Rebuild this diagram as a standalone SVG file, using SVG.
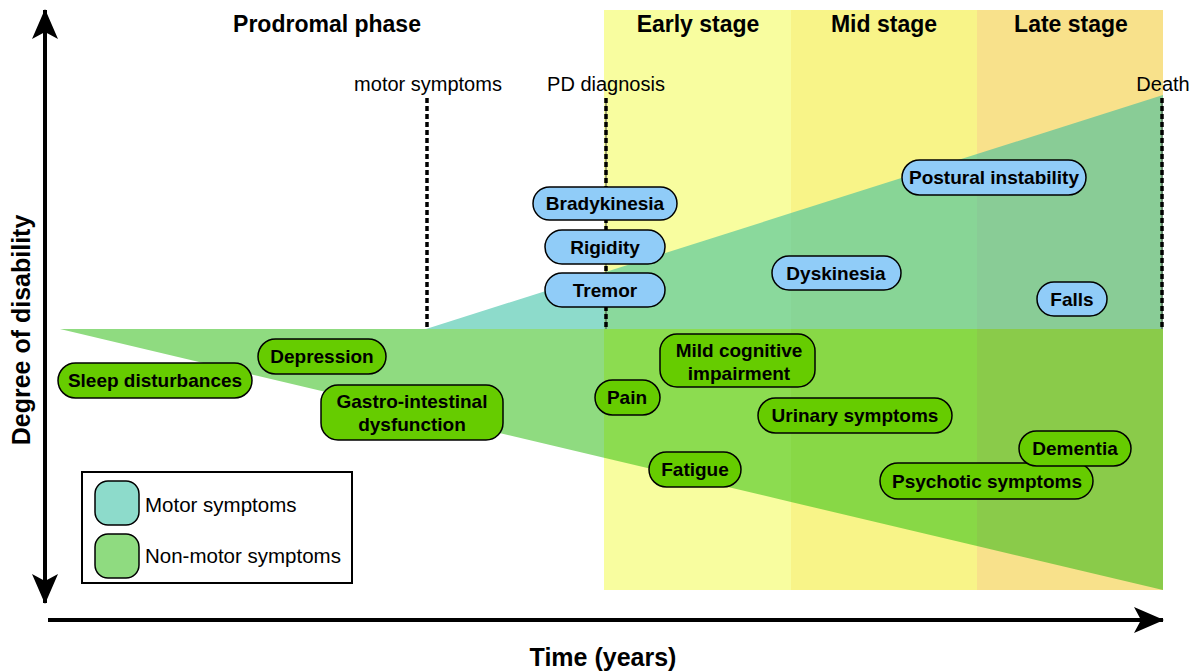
<svg xmlns="http://www.w3.org/2000/svg" width="1198" height="672" viewBox="0 0 1198 672">
<defs>
<style>
.hd{font-family:"Liberation Sans",Arial,sans-serif;font-weight:bold;font-size:23px;text-anchor:middle;fill:#000}
.ev{font-family:"Liberation Sans",Arial,sans-serif;font-size:20px;text-anchor:middle;fill:#000}
.ax{font-family:"Liberation Sans",Arial,sans-serif;font-weight:bold;font-size:25px;text-anchor:middle;fill:#000}
.lg{font-family:"Liberation Sans",Arial,sans-serif;font-size:20.5px;fill:#000}
.nt{font-family:"Liberation Sans",Arial,sans-serif;font-weight:bold;font-size:19px;text-anchor:middle;fill:#000}
.mot rect{fill:#90CCF8;stroke:#000;stroke-width:1.5}
.non rect{fill:#66CC00;stroke:#000;stroke-width:1.5}
.dash{stroke:#000;stroke-width:3.5;stroke-dasharray:5 3;fill:none}
.thin{stroke:#444;stroke-width:1;fill:none}
</style>
<clipPath id="cW"><rect x="0" y="0" width="604" height="672"/></clipPath>
<clipPath id="cE"><rect x="604" y="0" width="187" height="672"/></clipPath>
<clipPath id="cM"><rect x="791" y="0" width="186" height="672"/></clipPath>
<clipPath id="cL"><rect x="977" y="0" width="186" height="672"/></clipPath>
<marker id="ah" viewBox="0 0 30 26" refX="29" refY="13" markerWidth="30" markerHeight="26" markerUnits="userSpaceOnUse" orient="auto-start-reverse">
<path d="M0,0 L30,13 L0,26 L7,13 Z" fill="#000"/>
</marker>
</defs>
<rect x="0" y="0" width="1198" height="672" fill="#fff"/>
<g id="stages">
<rect x="604" y="10" width="187" height="580" fill="#F8FD9F"/>
<rect x="791" y="10" width="186" height="580" fill="#F8F488"/>
<rect x="977" y="10" width="186" height="580" fill="#F8E18B"/>
</g>
<g id="motor-area">
<polygon points="426,329 1163,95 1163,329" fill="#8DDBCB" clip-path="url(#cW)"/>
<polygon points="426,329 1163,95 1163,329" fill="#8AD99C" clip-path="url(#cE)"/>
<polygon points="426,329 1163,95 1163,329" fill="#88D596" clip-path="url(#cM)"/>
<polygon points="426,329 1163,95 1163,329" fill="#89CC96" clip-path="url(#cL)"/>
</g>
<g id="nonmotor-area">
<polygon points="60,329 1163,329 1163,590" fill="#8FDB80" clip-path="url(#cW)"/>
<polygon points="60,329 1163,329 1163,590" fill="#8CDC50" clip-path="url(#cE)"/>
<polygon points="60,329 1163,329 1163,590" fill="#88D846" clip-path="url(#cM)"/>
<polygon points="60,329 1163,329 1163,590" fill="#8ACB4A" clip-path="url(#cL)"/>
</g>
<g id="headings">
<text class="hd" x="327" y="32">Prodromal phase</text>
<text class="hd" x="698" y="32">Early stage</text>
<text class="hd" x="884" y="32">Mid stage</text>
<text class="hd" x="1071" y="32">Late stage</text>
</g>
<g id="events">
<text class="ev" x="428" y="91">motor symptoms</text>
<text class="ev" x="606" y="91">PD diagnosis</text>
<text class="ev" x="1163" y="91">Death</text>
</g>
<g id="connectors">
<line class="thin" x1="606" y1="98" x2="606" y2="329"/>
<line class="thin" x1="1162" y1="98" x2="1162" y2="329"/>
<line class="dash" x1="427" y1="98" x2="427" y2="330"/>
<line class="dash" x1="606" y1="98" x2="606" y2="330"/>
<line class="dash" x1="1162" y1="98" x2="1162" y2="330"/>
<line x1="45" y1="603" x2="45" y2="10" stroke="#000" stroke-width="4" marker-start="url(#ah)" marker-end="url(#ah)"/>
<line x1="48" y1="620" x2="1163" y2="620" stroke="#000" stroke-width="4" marker-end="url(#ah)"/>
</g>
<g id="axis-labels">
<text class="ax" x="0" y="0" transform="translate(30,330) rotate(-90)">Degree of disability</text>
<text class="ax" x="603" y="666">Time (years)</text>
</g>
<g id="legend">
<rect x="82" y="472" width="270" height="111" fill="#fff" stroke="#000" stroke-width="2"/>
<rect x="95" y="481" width="44" height="44" rx="13" fill="#8DDBCB" stroke="#000" stroke-width="1.5"/>
<rect x="95" y="534" width="44" height="44" rx="13" fill="#8FDB80" stroke="#000" stroke-width="1.5"/>
<text class="lg" x="145" y="512">Motor symptoms</text>
<text class="lg" x="145" y="563">Non-motor symptoms</text>
</g>
<g id="n-bradykinesia" class="mot"><rect x="533" y="187" width="144" height="33" rx="16.5"/><text class="nt" x="605" y="210">Bradykinesia</text></g>
<g id="n-rigidity" class="mot"><rect x="545" y="230" width="120" height="34" rx="17"/><text class="nt" x="605" y="254">Rigidity</text></g>
<g id="n-tremor" class="mot"><rect x="545" y="273" width="120" height="34" rx="17"/><text class="nt" x="605" y="297">Tremor</text></g>
<g id="n-dyskinesia" class="mot"><rect x="772" y="256" width="129" height="34" rx="17"/><text class="nt" x="836" y="280">Dyskinesia</text></g>
<g id="n-postural" class="mot"><rect x="902" y="160" width="184" height="35" rx="17.5"/><text class="nt" x="994" y="184">Postural instability</text></g>
<g id="n-falls" class="mot"><rect x="1037" y="282" width="70" height="34" rx="17"/><text class="nt" x="1072" y="306">Falls</text></g>
<g id="n-sleep" class="non"><rect x="58" y="363" width="194" height="35" rx="17.5"/><text class="nt" x="155" y="387">Sleep disturbances</text></g>
<g id="n-depression" class="non"><rect x="258" y="339" width="128" height="35" rx="17.5"/><text class="nt" x="322" y="363">Depression</text></g>
<g id="n-gastro" class="non"><rect x="321" y="385" width="182" height="55" rx="17"/><text class="nt" x="412" y="408">Gastro-intestinal</text><text class="nt" x="412" y="431">dysfunction</text></g>
<g id="n-mci" class="non"><rect x="660" y="334" width="155" height="53" rx="17"/><text class="nt" x="739" y="357">Mild cognitive</text><text class="nt" x="739" y="380">impairment</text></g>
<g id="n-pain" class="non"><rect x="595" y="380" width="65" height="35" rx="17.5"/><text class="nt" x="627" y="404">Pain</text></g>
<g id="n-urinary" class="non"><rect x="758" y="398" width="194" height="35" rx="17.5"/><text class="nt" x="855" y="422">Urinary symptoms</text></g>
<g id="n-fatigue" class="non"><rect x="649" y="452" width="92" height="35" rx="17.5"/><text class="nt" x="695" y="476">Fatigue</text></g>
<g id="n-psychotic" class="non"><rect x="880" y="463" width="213" height="36" rx="18"/><text class="nt" x="987" y="488">Psychotic symptoms</text></g>
<g id="n-dementia" class="non"><rect x="1019" y="431" width="112" height="35" rx="17.5"/><text class="nt" x="1075" y="455">Dementia</text></g>
</svg>
